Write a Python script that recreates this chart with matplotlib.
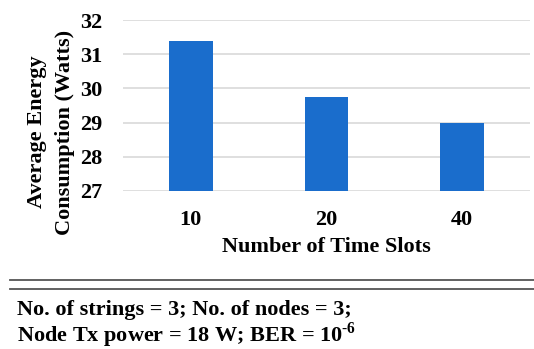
import numpy as np
import matplotlib.pyplot as plt
from matplotlib.lines import Line2D

slots = ['10', '20', '40']
energy = [31.4, 29.75, 29.0]
yticks = [27, 28, 29, 30, 31, 32]

plt.rcParams['font.family'] = 'Liberation Serif'
plt.rcParams['font.weight'] = 'bold'
plt.rcParams['mathtext.fontset'] = 'custom'
plt.rcParams['mathtext.rm'] = 'Liberation Serif:bold'
plt.rcParams['mathtext.bf'] = 'Liberation Serif:bold'

fig = plt.figure(figsize=(5.34, 3.49), dpi=100)
ax = fig.add_axes([123/534, 1 - 191/349, (530 - 123)/534, (191 - 20)/349])

x = np.arange(len(slots))
ax.bar(x, energy, width=0.32, color='#1a6dcc', zorder=3)
ax.set_xlim(-0.5, len(slots) - 0.5)
ax.set_ylim(27, 32)
ax.set_yticks(yticks)
ax.set_xticks(x)
ax.set_xticklabels(slots)
ax.grid(axis='y', color='#d9d9d9', linewidth=1.2, zorder=0)
for s in ax.spines.values():
    s.set_visible(False)
ax.tick_params(length=0, labelsize=16)
ax.tick_params(axis='y', pad=15)
ax.tick_params(axis='x', pad=14)
ax.set_xlabel('Number of Time Slots', fontsize=16, fontweight='bold', labelpad=5)
ax.set_ylabel('Average Energy\nConsumption (Watts)', fontsize=16, fontweight='bold',
              linespacing=1.55)
ax.yaxis.label.set_verticalalignment('center')
ax.yaxis.set_label_coords((51 - 123) / 407, (191 - 132) / 171)

# double rule and caption below the chart
for yy in [280, 289]:
    fig.add_artist(Line2D([10/534, 1], [1 - yy/349] * 2, color='#555555', linewidth=1.3))
fig.text(17/534, 1 - 315/349, 'No. of strings = 3; No. of nodes = 3;',
         fontsize=16, fontweight='bold', va='baseline')
fig.text(17/534, 1 - 342/349, r'Node Tx power = 18 W; BER = 10$^{\text{-6}}$',
         fontsize=16, fontweight='bold', va='baseline')

fig.savefig('out.png', dpi=100)
